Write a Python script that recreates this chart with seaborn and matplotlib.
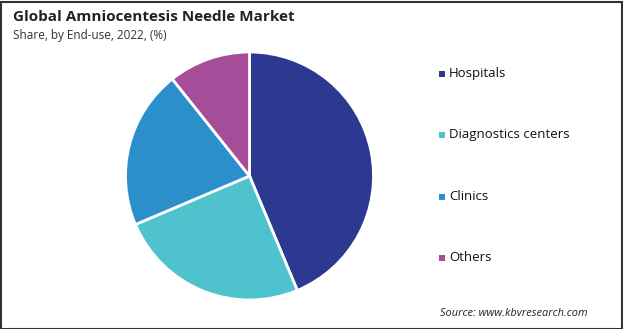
import matplotlib
matplotlib.use("Agg")
import matplotlib.pyplot as plt
from matplotlib.patches import Rectangle
import seaborn as sns

categories = ["Hospitals", "Diagnostics centers", "Clinics", "Others"]
shares = [43.7, 24.9, 20.7, 10.7]
colors = ["#2B3990", "#4EC3CD", "#2A8FCB", "#A64D9A"]

title = "Global Amniocentesis Needle Market"
subtitle = "Share, by End-use, 2022, (%)"
source = "Source: www.kbvresearch.com"

sns.set_theme(style="white")
plt.rcParams["font.family"] = ["Open Sans", "DejaVu Sans"]

W, H = 623, 329
fig = plt.figure(figsize=(W / 100, H / 100), dpi=100)
fig.patch.set_facecolor("white")

cx, cy, r = 249.5, 176, 124
ax = fig.add_axes([(cx - r) / W, (H - cy - r) / H, 2 * r / W, 2 * r / H])
ax.pie(shares, colors=colors, startangle=90, counterclock=False,
       wedgeprops=dict(edgecolor="white", linewidth=2))
ax.set_aspect("auto")
ax.set_xlim(-1.0, 1.0)
ax.set_ylim(-1.0, 1.0)
ax.axis("off")

fig.text(13 / W, 1 - 17 / H, title, fontsize=11, fontweight="bold",
         color="#222222", va="center", ha="left")
fig.text(13 / W, 1 - 36 / H, subtitle, fontsize=8.5, color="#333333",
         va="center", ha="left")

ys = [73.5, 134.7, 196.7, 257.7]
for cat, col, y in zip(categories, colors, ys):
    fig.patches.append(Rectangle(((438.5) / W, 1 - (y + 3) / H), 6 / W, 6 / H,
                                 transform=fig.transFigure, facecolor=col,
                                 edgecolor="none"))
    fig.text(449 / W, 1 - y / H, cat, fontsize=9.5, color="#111111",
             va="center", ha="left")

fig.text(440 / W, 1 - 314 / H, source, fontsize=7.9, style="italic",
         color="#222222", va="center", ha="left")

fig.patches.append(Rectangle((0.5 / W, 0.5 / H), 1 - 2 / W, 1 - 2 / H,
                             transform=fig.transFigure, facecolor="none",
                             edgecolor="#333333", linewidth=1.5))

fig.savefig("out.png", dpi=100)
